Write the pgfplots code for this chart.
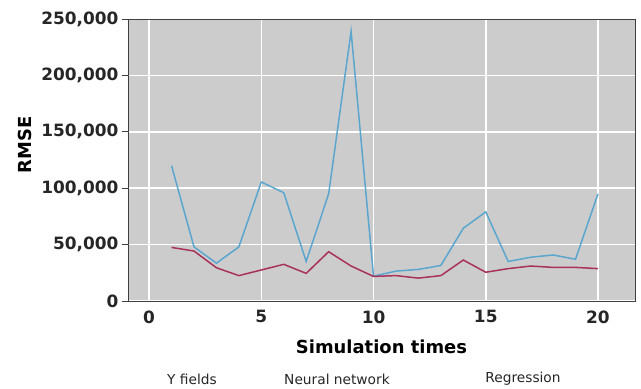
\documentclass[border=0pt]{standalone}
\usepackage{fontspec}
\setmainfont{DejaVu Sans}
\usepackage{pgfplots}
\pgfplotsset{compat=1.18}
\definecolor{bgray}{HTML}{CCCCCC}
\definecolor{lblue}{HTML}{5AA6CE}
\definecolor{dred}{HTML}{A8325A}
\begin{document}
\begin{tikzpicture}
\path[use as bounding box] (-128bp,-88bp) rectangle (513bp,301bp);
\begin{axis}[
  at={(0,0)}, anchor=south west,
  scale only axis, width=507bp, height=282bp,
  xmin=-0.94, xmax=21.65, ymin=0, ymax=250000,
  xtick={0,5,10,15,20},
  xticklabels={0,5,10,15,20},
  ytick={0,50000,100000,150000,200000,250000},
  yticklabels={0,{50,000},{100,000},{150,000},{200,000},{250,000}},
  scaled y ticks=false,
  ytick pos=left,
  axis background/.style={fill=bgray},
  grid=major,
  major grid style={white, line width=1.5pt},
  axis line style={black!75, line width=0.9pt},
  tick align=outside,
  tick style={black!75, line width=0.8pt},
  major tick length=6bp,
  xtick style={draw=none},
  ticklabel style={font=\bfseries\fontsize{17}{20}\selectfont, text=black!85},
  ylabel={RMSE}, xlabel={Simulation times},
  label style={font=\bfseries\fontsize{18}{21}\selectfont},
  ylabel style={at={([xshift=-103bp]axis description cs:0,0.553)}, anchor=center},
  xlabel style={at={([yshift=-46bp]axis description cs:0.5,0)}, anchor=center},
  clip=false,
]
\addplot[lblue, line width=1.5pt, mark=none] coordinates {
 (1,120000) (2,48000) (3,33500) (4,48000) (5,105500) (6,96000) (7,35000) (8,95000)
 (9,239000) (10,22000) (11,26500) (12,28000) (13,31500) (14,64500) (15,79000)
 (16,35000) (17,38800) (18,40800) (19,37000) (20,95000)};
\addplot[dred, line width=1.5pt, mark=none] coordinates {
 (1,47500) (2,44300) (3,29500) (4,22500) (5,27500) (6,32500) (7,24500) (8,43700)
 (9,31000) (10,21800) (11,22500) (12,20300) (13,22500) (14,36300) (15,25500)
 (16,28700) (17,31000) (18,29800) (19,29800) (20,28700)};
\node[font=\fontsize{13.8}{16}\selectfont, text=black!85] at ([xshift=64bp,yshift=-78bp]axis description cs:0,0) {Y fields};
\node[font=\fontsize{13.8}{16}\selectfont, text=black!85] at ([xshift=209bp,yshift=-78bp]axis description cs:0,0) {Neural network};
\node[font=\fontsize{13.8}{16}\selectfont, text=black!85] at ([xshift=395bp,yshift=-78bp]axis description cs:0,0) {Regression};
\end{axis}
\end{tikzpicture}
\end{document}
